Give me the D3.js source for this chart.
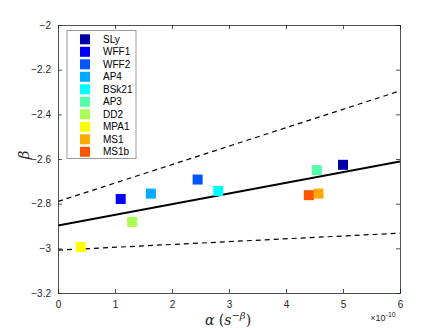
<!DOCTYPE html>
<html><head><meta charset="utf-8">
<script src="https://cdn.jsdelivr.net/npm/d3@7"></script>
<style>body{margin:0;background:#fff;}svg{display:block;font-family:"Liberation Sans",Arial,sans-serif;}</style>
</head><body><div id="chart"></div>
<script>
const names = ["SLy","WFF1","WFF2","AP4","BSk21","AP3","DD2","MPA1","MS1","MS1b"];
const alphaVals = [5.00,1.10,2.45,1.63,2.81,4.54,1.30,0.40,4.57,4.40]; // ×1e-10
const betaVals = [-2.626,-2.779,-2.692,-2.755,-2.743,-2.650,-2.882,-2.994,-2.755,-2.762];
const colors = ["#0000aa","#0000ff","#0055ff","#00aaff","#00ffff","#55ffaa","#aaff55","#ffff00","#ffaa00","#ff5500"];
const fitX = [0,6];
const fitY = [-2.898,-2.611];
const upperY = [-2.790,-2.295];
const lowerY = [-3.008,-2.932];
const xTicks = [0,1,2,3,4,5,6];
const yTicks = [-2,-2.2,-2.4,-2.6,-2.8,-3,-3.2];

const W=443,H=332;
const svg=d3.select("#chart").append("svg").attr("width",W).attr("height",H);
const L=58,R=400,T=25,B=293;
const x=d3.scaleLinear().domain([0,6]).range([L,R]);
const y=d3.scaleLinear().domain([-3.2,-2]).range([B,T]);
const axCol="#262626";

// lines
const line=d3.line().x(d=>x(d[0])).y(d=>y(d[1]));
const clip=svg.append("clipPath").attr("id","c").append("rect").attr("x",L).attr("y",T).attr("width",R-L).attr("height",B-T);
const g=svg.append("g").attr("clip-path","url(#c)");
g.append("path").attr("d",line(fitX.map((v,i)=>[v,upperY[i]]))).attr("fill","none").attr("stroke","#000").attr("stroke-width",1.2).attr("stroke-dasharray","5,4");
g.append("path").attr("d",line(fitX.map((v,i)=>[v,lowerY[i]]))).attr("fill","none").attr("stroke","#000").attr("stroke-width",1.2).attr("stroke-dasharray","5,4");
g.append("path").attr("d",line(fitX.map((v,i)=>[v,fitY[i]]))).attr("fill","none").attr("stroke","#000").attr("stroke-width",2);

// points
const s=10;
g.selectAll("rect.pt").data(names).enter().append("rect").attr("class","pt")
 .attr("x",(d,i)=>x(alphaVals[i])-s/2).attr("y",(d,i)=>y(betaVals[i])-s/2)
 .attr("width",s).attr("height",s).attr("fill",(d,i)=>colors[i]);

// axes
const tl=4;
const ax=svg.append("g");
ax.append("g").attr("transform",`translate(0,${B})`).call(d3.axisBottom(x).tickValues(xTicks).tickSize(-tl).tickFormat(d3.format("d")).tickPadding(8));
ax.append("g").attr("transform",`translate(0,${T})`).call(d3.axisTop(x).tickValues(xTicks).tickSize(-tl).tickFormat(""));
ax.append("g").attr("transform",`translate(${L},0)`).call(d3.axisLeft(y).tickValues(yTicks).tickSize(-tl).tickFormat(d=>d3.format("")(d)).tickPadding(7));
ax.append("g").attr("transform",`translate(${R},0)`).call(d3.axisRight(y).tickValues(yTicks).tickSize(-tl).tickFormat(""));
ax.selectAll("path.domain").attr("stroke",axCol).attr("stroke-width",0.8);
ax.selectAll(".tick line").attr("stroke",axCol).attr("stroke-width",0.8);
ax.selectAll(".tick text").attr("fill",axCol).attr("font-size",10).attr("font-family","Liberation Sans, Arial, sans-serif");

// labels
svg.append("text").attr("x",228).attr("y",325).attr("text-anchor","middle").attr("font-family","DejaVu Serif, serif").attr("font-size",14).attr("fill",axCol)
  .html('<tspan font-style="italic">α</tspan> (<tspan font-style="italic">s</tspan><tspan dy="-6" font-size="10">−</tspan><tspan font-size="10" font-style="italic">β</tspan><tspan dy="6">)</tspan>');
svg.append("text").attr("x",383).attr("y",321).attr("text-anchor","middle").attr("font-size",9).attr("fill",axCol)
  .html('×10<tspan dy="-4" font-size="7">-10</tspan>');
svg.append("text").attr("transform","translate(29,155) rotate(-90)").attr("text-anchor","middle").attr("font-family","DejaVu Serif, serif").attr("font-style","italic").attr("font-size",15).attr("fill",axCol).text("β");

// legend
const lg=svg.append("g");
lg.append("rect").attr("x",67).attr("y",30.5).attr("width",69).attr("height",128).attr("fill","#fff").attr("stroke","#999").attr("stroke-width",1);
names.forEach((n,i)=>{
  const cy=39.3+i*12.5;
  lg.append("rect").attr("x",80).attr("y",cy-5).attr("width",10).attr("height",10).attr("fill",colors[i]);
  lg.append("text").attr("x",103).attr("y",cy+3.5).attr("font-size",10).attr("fill","#000").text(n);
});
</script></body></html>
